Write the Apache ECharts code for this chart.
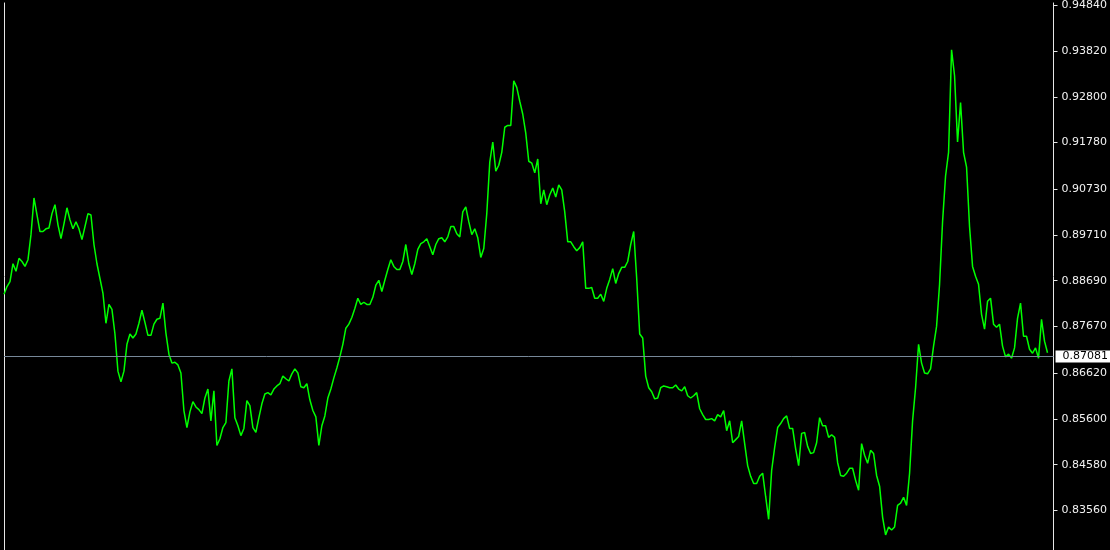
<!DOCTYPE html>
<html>
<head>
<meta charset="utf-8">
<script src="https://cdn.jsdelivr.net/npm/echarts@6/dist/echarts.min.js"></script>
<style>
html,body{margin:0;padding:0;background:#000;}
#chart{width:1110px;height:550px;}
</style>
</head>
<body>
<div id="chart"></div>
<script>
// price series (one value per bar, left to right)
const prices = [
0.8839,0.8856,0.8867,0.8907,0.8890,0.8919,0.8912,0.8901,0.8916,0.8972,
0.9054,0.9016,0.8979,0.8979,0.8985,0.8987,0.9019,0.9039,0.8994,0.8963,
0.8996,0.9032,0.9005,0.8985,0.9001,0.8985,0.8961,0.8990,0.9019,0.9016,
0.8950,0.8907,0.8874,0.8841,0.8774,0.8816,0.8805,0.8750,0.8667,0.8643,
0.8667,0.8727,0.8750,0.8741,0.8750,0.8774,0.8803,0.8776,0.8747,0.8747,
0.8772,0.8783,0.8785,0.8819,0.8752,0.8705,0.8685,0.8687,0.8681,0.8663,
0.8579,0.8541,0.8576,0.8599,0.8587,0.8581,0.8572,0.8607,0.8627,0.8556,
0.8623,0.8501,0.8516,0.8541,0.8552,0.8645,0.8672,0.8563,0.8545,0.8523,
0.8539,0.8601,0.8590,0.8541,0.8530,0.8563,0.8594,0.8616,0.8619,0.8614,
0.8627,0.8634,0.8639,0.8656,0.8650,0.8645,0.8661,0.8672,0.8663,0.8632,
0.8630,0.8639,0.8603,0.8579,0.8565,0.8501,0.8545,0.8567,0.8607,0.8627,
0.8652,0.8674,0.8699,0.8727,0.8763,0.8772,0.8787,0.8807,0.8830,0.8816,
0.8821,0.8816,0.8816,0.8832,0.8859,0.8870,0.8845,0.8870,0.8894,0.8916,
0.8901,0.8894,0.8894,0.8912,0.8950,0.8907,0.8883,0.8907,0.8939,0.8952,
0.8956,0.8963,0.8945,0.8927,0.8950,0.8963,0.8965,0.8956,0.8967,0.8990,
0.8990,0.8974,0.8967,0.9023,0.9034,0.9001,0.8972,0.8985,0.8965,0.8921,
0.8941,0.9019,0.9134,0.9179,0.9114,0.9127,0.9156,0.9212,0.9216,0.9216,
0.9316,0.9301,0.9270,0.9241,0.9199,0.9136,0.9132,0.9110,0.9141,0.9041,
0.9072,0.9039,0.9061,0.9076,0.9056,0.9083,0.9072,0.9023,0.8956,0.8956,
0.8945,0.8936,0.8943,0.8956,0.8852,0.8852,0.8854,0.8830,0.8830,0.8839,
0.8823,0.8852,0.8872,0.8896,0.8863,0.8885,0.8899,0.8899,0.8912,0.8950,
0.8979,0.8874,0.8750,0.8741,0.8656,0.8630,0.8621,0.8605,0.8607,0.8630,
0.8634,0.8632,0.8630,0.8630,0.8636,0.8627,0.8623,0.8632,0.8612,0.8607,
0.8612,0.8619,0.8583,0.8570,0.8559,0.8559,0.8561,0.8556,0.8570,0.8565,
0.8579,0.8534,0.8556,0.8507,0.8514,0.8521,0.8556,0.8505,0.8456,0.8432,
0.8416,0.8416,0.8432,0.8439,0.8387,0.8336,0.8445,0.8496,0.8541,0.8550,
0.8561,0.8567,0.8539,0.8539,0.8494,0.8456,0.8528,0.8530,0.8499,0.8483,
0.8485,0.8507,0.8563,0.8545,0.8545,0.8519,0.8525,0.8519,0.8463,0.8434,
0.8432,0.8439,0.8450,0.8450,0.8423,0.8401,0.8505,0.8479,0.8461,0.8490,
0.8483,0.8434,0.8410,0.8341,0.8301,0.8319,0.8312,0.8319,0.8367,0.8372,
0.8385,0.8367,0.8439,0.8556,0.8630,0.8727,0.8685,0.8663,0.8661,0.8672,
0.8723,0.8767,0.8861,0.9001,0.9103,0.9156,0.9385,0.9327,0.9179,0.9267,
0.9156,0.9123,0.8990,0.8901,0.8879,0.8861,0.8794,0.8761,0.8823,0.8830,
0.8772,0.8765,0.8772,0.8723,0.8699,0.8705,0.8696,0.8719,0.8785,0.8819,
0.8745,0.8745,0.8716,0.8707,0.8719,0.8696,0.8783,0.8734,0.87081
];
// price-axis tick labels
const tickValues = [0.83560,0.84580,0.85600,0.86620,0.87670,0.88690,0.89710,0.90730,0.91780,0.92800,0.93820,0.94840];
const currentPrice = 0.87081;
const slotCount = 351; // bar slots across the window (last two empty)
const categories = Array.from({length: slotCount}, (_, i) => i);

const chart = echarts.init(document.getElementById('chart'), null, {renderer: 'canvas'});
const yMin = 0.82674, yMax = 0.94897;
chart.setOption({
  animation: false,
  backgroundColor: '#000000',
  grid: {left: 4, right: 56, top: 0, bottom: 0, containLabel: false},
  xAxis: {
    type: 'category', data: categories, boundaryGap: false,
    axisLine: {show: false}, axisTick: {show: false}, axisLabel: {show: false}, splitLine: {show: false}
  },
  yAxis: [{
    type: 'value', position: 'right', min: yMin, max: yMax, scale: true,
    axisLine: {show: true, lineStyle: {color: '#e6e6e6', width: 1}},
    axisTick: {show: true, inside: false, length: 4, customValues: tickValues, lineStyle: {color: '#e6e6e6'}},
    axisLabel: {
      show: true, customValues: tickValues, margin: 8,
      color: '#f2f2f2', fontFamily: 'DejaVu Sans', fontSize: 11,
      formatter: v => Number(v).toFixed(5)
    },
    splitLine: {show: false}
  }, {
    type: 'value', position: 'left', min: yMin, max: yMax,
    axisLine: {show: true, lineStyle: {color: '#e6e6e6', width: 1}},
    axisTick: {show: false}, axisLabel: {show: false}, splitLine: {show: false}
  }],
  series: [{
    type: 'line', data: prices, yAxisIndex: 0,
    showSymbol: false, symbol: 'none',
    lineStyle: {color: '#00ff00', width: 1.5},
    silent: true,
    markLine: {
      silent: true, symbol: 'none', animation: false,
      lineStyle: {color: '#778899', width: 1, type: 'solid'},
      label: {
        show: true, position: 'end', distance: 2,
        formatter: currentPrice.toFixed(5),
        color: '#000000', backgroundColor: '#ffffff',
        fontFamily: 'DejaVu Sans', fontSize: 11, lineHeight: 12,
        padding: [0, 8, 0, 7], align: 'left'
      },
      data: [{yAxis: currentPrice}]
    }
  }]
});
</script>
</body>
</html>
